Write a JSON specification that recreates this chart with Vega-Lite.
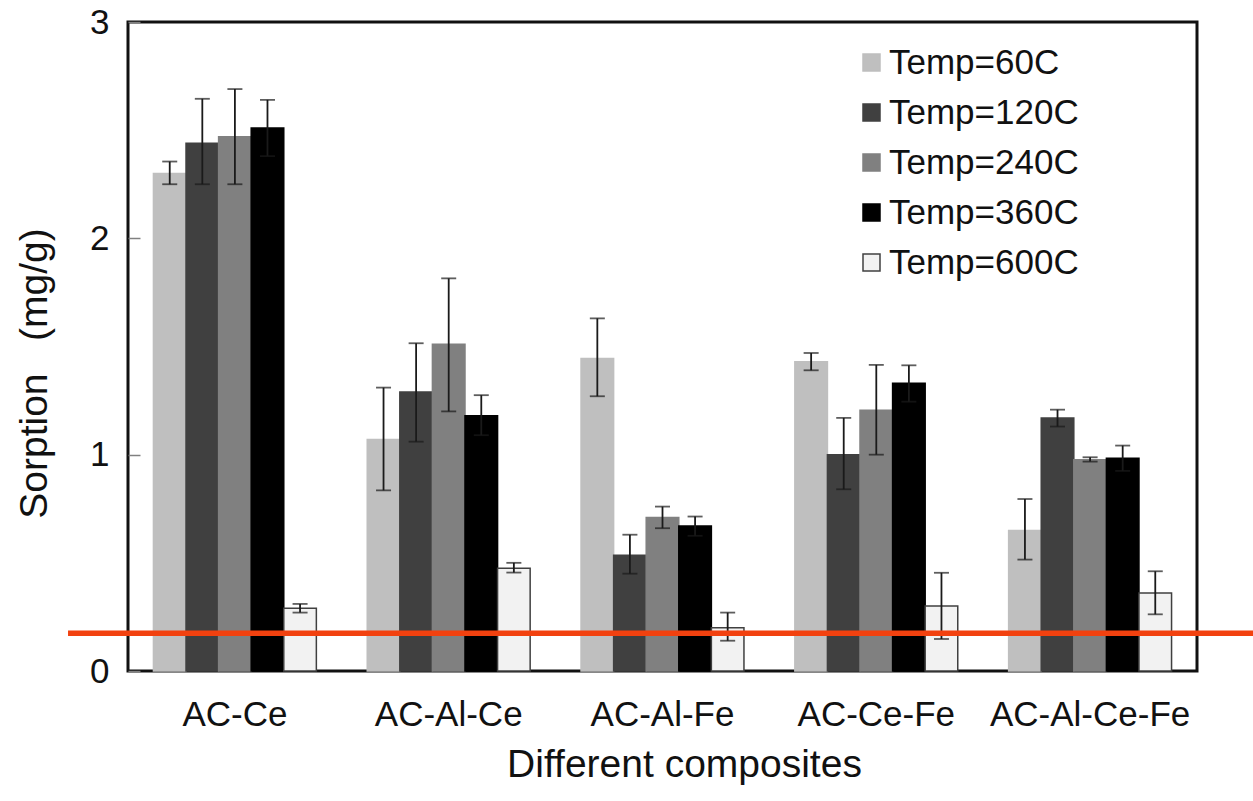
{
  "$schema": "https://vega.github.io/schema/vega-lite/v6.json",
  "width": 1069,
  "height": 649,
  "autosize": {"type": "none"},
  "padding": {"left": 128, "top": 22, "right": 56, "bottom": 130},
  "background": "white",
  "config": {
    "font": "Liberation Sans",
    "view": {"stroke": "#111111", "strokeWidth": 3},
    "axis": {"grid": false, "labelColor": "#111111", "titleColor": "#111111", "labelFont": "Liberation Sans", "titleFont": "Liberation Sans", "titleFontWeight": "normal"}
  },
  "datasets": {
    "sorption": [
      {"composite": "AC-Ce", "temp": "Temp=60C", "value": 2.30, "lo": 2.25, "hi": 2.355},
      {"composite": "AC-Ce", "temp": "Temp=120C", "value": 2.44, "lo": 2.25, "hi": 2.645},
      {"composite": "AC-Ce", "temp": "Temp=240C", "value": 2.47, "lo": 2.25, "hi": 2.69},
      {"composite": "AC-Ce", "temp": "Temp=360C", "value": 2.51, "lo": 2.38, "hi": 2.64},
      {"composite": "AC-Ce", "temp": "Temp=600C", "value": 0.29, "lo": 0.27, "hi": 0.31},
      {"composite": "AC-Al-Ce", "temp": "Temp=60C", "value": 1.07, "lo": 0.835, "hi": 1.31},
      {"composite": "AC-Al-Ce", "temp": "Temp=120C", "value": 1.29, "lo": 1.06, "hi": 1.515},
      {"composite": "AC-Al-Ce", "temp": "Temp=240C", "value": 1.51, "lo": 1.2, "hi": 1.815},
      {"composite": "AC-Al-Ce", "temp": "Temp=360C", "value": 1.18, "lo": 1.09, "hi": 1.275},
      {"composite": "AC-Al-Ce", "temp": "Temp=600C", "value": 0.475, "lo": 0.455, "hi": 0.5},
      {"composite": "AC-Al-Fe", "temp": "Temp=60C", "value": 1.445, "lo": 1.27, "hi": 1.63},
      {"composite": "AC-Al-Fe", "temp": "Temp=120C", "value": 0.535, "lo": 0.45, "hi": 0.63},
      {"composite": "AC-Al-Fe", "temp": "Temp=240C", "value": 0.71, "lo": 0.66, "hi": 0.76},
      {"composite": "AC-Al-Fe", "temp": "Temp=360C", "value": 0.67, "lo": 0.625, "hi": 0.714},
      {"composite": "AC-Al-Fe", "temp": "Temp=600C", "value": 0.2, "lo": 0.14, "hi": 0.27},
      {"composite": "AC-Ce-Fe", "temp": "Temp=60C", "value": 1.43, "lo": 1.39, "hi": 1.47},
      {"composite": "AC-Ce-Fe", "temp": "Temp=120C", "value": 1.0, "lo": 0.84, "hi": 1.17},
      {"composite": "AC-Ce-Fe", "temp": "Temp=240C", "value": 1.205, "lo": 1.0, "hi": 1.415},
      {"composite": "AC-Ce-Fe", "temp": "Temp=360C", "value": 1.33, "lo": 1.245, "hi": 1.413},
      {"composite": "AC-Ce-Fe", "temp": "Temp=600C", "value": 0.3, "lo": 0.148, "hi": 0.454},
      {"composite": "AC-Al-Ce-Fe", "temp": "Temp=60C", "value": 0.65, "lo": 0.515, "hi": 0.795},
      {"composite": "AC-Al-Ce-Fe", "temp": "Temp=120C", "value": 1.17, "lo": 1.13, "hi": 1.208},
      {"composite": "AC-Al-Ce-Fe", "temp": "Temp=240C", "value": 0.977, "lo": 0.968, "hi": 0.988},
      {"composite": "AC-Al-Ce-Fe", "temp": "Temp=360C", "value": 0.983, "lo": 0.925, "hi": 1.042},
      {"composite": "AC-Al-Ce-Fe", "temp": "Temp=600C", "value": 0.36, "lo": 0.262, "hi": 0.461}
    ],
    "threshold": [
      {"level": 0.175, "start": -0.0561, "end": 1.061}
    ]
  },
  "resolve": {"scale": {"x": "independent"}},
  "layer": [
    {
      "data": {"name": "sorption"},
      "layer": [
        {
          "mark": {"type": "bar", "strokeWidth": 1.5},
          "encoding": {
            "x": {
              "field": "composite", "type": "nominal", "sort": null,
              "scale": {"paddingInner": 0.238, "paddingOuter": 0.119},
              "axis": {"title": "Different composites", "titleFontSize": 39, "titlePadding": 13, "titleX": 556, "labelFontSize": 35, "labelLimit": 400, "labelAngle": 0, "labelPadding": 26, "ticks": false, "domain": false}
            },
            "xOffset": {"field": "temp", "type": "nominal", "sort": null, "scale": {"paddingInner": 0, "paddingOuter": 0}},
            "y": {
              "field": "value", "type": "quantitative",
              "scale": {"domain": [0, 3], "nice": false},
              "axis": {"title": "Sorption\u00a0\u00a0\u00a0(mg/g)", "titleFontSize": 39, "titleAngle": -90, "titleX": -94, "titleY": 351, "titleAlign": "center", "titleBaseline": "middle", "values": [0, 1, 2, 3], "format": "d", "labelFontSize": 35, "labelPadding": 31, "tickSize": -12, "tickColor": "#808080", "tickWidth": 1.5, "domain": false}
            },
            "fill": {
              "field": "temp", "type": "nominal", "sort": null,
              "scale": {"domain": ["Temp=60C", "Temp=120C", "Temp=240C", "Temp=360C", "Temp=600C"], "range": ["#BFBFBF", "#404040", "#808080", "#000000", "#F2F2F2"]},
              "legend": {"title": null, "orient": "none", "legendX": 726, "legendY": 23, "padding": 0, "symbolType": "square", "symbolSize": 289, "symbolStrokeWidth": 1.5, "labelFontSize": 35, "labelFont": "Liberation Sans", "labelColor": "#111111", "labelOffset": 0, "rowPadding": 14, "labelLimit": 400}
            },
            "stroke": {
              "field": "temp", "type": "nominal", "sort": null,
              "scale": {"domain": ["Temp=60C", "Temp=120C", "Temp=240C", "Temp=360C", "Temp=600C"], "range": ["#BFBFBF", "#404040", "#808080", "#000000", "#404040"]},
              "legend": {"title": null}
            }
          }
        },
        {
          "mark": {"type": "rule", "color": "#1a1a1a", "strokeWidth": 1.8},
          "encoding": {
            "x": {"field": "composite", "type": "nominal", "sort": null, "scale": {"paddingInner": 0.238, "paddingOuter": 0.119}},
            "xOffset": {"field": "temp", "type": "nominal", "sort": null, "scale": {"paddingInner": 0, "paddingOuter": 0}},
            "y": {"field": "lo", "type": "quantitative"},
            "y2": {"field": "hi"}
          }
        },
        {
          "mark": {"type": "tick", "color": "#1a1a1a", "thickness": 1.8, "size": 15},
          "encoding": {
            "x": {"field": "composite", "type": "nominal", "sort": null, "scale": {"paddingInner": 0.238, "paddingOuter": 0.119}},
            "xOffset": {"field": "temp", "type": "nominal", "sort": null, "scale": {"paddingInner": 0, "paddingOuter": 0}},
            "y": {"field": "lo", "type": "quantitative"}
          }
        },
        {
          "mark": {"type": "tick", "color": "#1a1a1a", "thickness": 1.8, "size": 15},
          "encoding": {
            "x": {"field": "composite", "type": "nominal", "sort": null, "scale": {"paddingInner": 0.238, "paddingOuter": 0.119}},
            "xOffset": {"field": "temp", "type": "nominal", "sort": null, "scale": {"paddingInner": 0, "paddingOuter": 0}},
            "y": {"field": "hi", "type": "quantitative"}
          }
        }
      ]
    },
    {
      "data": {"name": "threshold"},
      "mark": {"type": "rule", "color": "#F2410F", "strokeWidth": 5.5, "clip": false},
      "encoding": {
        "x": {"field": "start", "type": "quantitative", "scale": {"domain": [0, 1], "nice": false, "zero": false}, "axis": null},
        "x2": {"field": "end"},
        "y": {"field": "level", "type": "quantitative"}
      }
    }
  ]
}
